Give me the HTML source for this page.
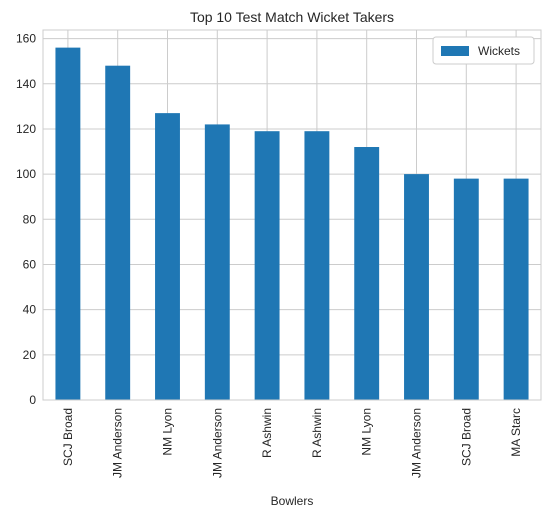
<!DOCTYPE html>
<html><head><meta charset="utf-8"><style>
body{margin:0;background:#fff;font-family:"Liberation Sans",sans-serif;}
svg text{font-family:"Liberation Sans",sans-serif;fill:#262626;}
</style></head><body>
<svg id="chart" width="548" height="520">
<rect width="548" height="520" fill="#fff"/>
<text x="292" y="22" font-size="14" text-anchor="middle">Top 10 Test Match Wicket Takers</text>
<g id="grid"></g><g id="bars"></g><g id="xt"></g><g id="yt"></g>
<rect x="43" y="30" width="498" height="370" fill="none" stroke="#ccc" stroke-width="1"/>
<text x="292" y="505" font-size="12" text-anchor="middle">Bowlers</text>
<g>
<rect x="433" y="37" width="101" height="27" rx="3" fill="#fff" stroke="#ccc"/>
<rect x="441" y="46" width="28" height="10" fill="#1f77b4"/>
<text x="478" y="55" font-size="12">Wickets</text>
</g>
</svg>
<script>
const categories=["SCJ Broad","JM Anderson","NM Lyon","JM Anderson","R Ashwin","R Ashwin","NM Lyon","JM Anderson","SCJ Broad","MA Starc"];
const wickets=[156,148,127,122,119,119,112,100,98,98];
const yTicks=[0,20,40,60,80,100,120,140,160];
const NS="http://www.w3.org/2000/svg";
const L=43,R=541,T=30,B=400,yMax=Math.max(...wickets)*1.05;
const y=v=>B-(v/yMax)*(B-T);
const band=(R-L)/categories.length;
const x=i=>L+band*(i+0.5);
function mk(tag,attrs,parent){const e=document.createElementNS(NS,tag);for(const k in attrs)e.setAttribute(k,attrs[k]);document.getElementById(parent).appendChild(e);return e;}
yTicks.forEach(t=>{
 const g=mk("line",{x1:L,x2:R,y1:y(t),y2:y(t),stroke:"#ccc","stroke-width":1},"grid");
 
 
 const tx=mk("text",{x:L-7,y:y(t)+4,"font-size":12,"text-anchor":"end"},"yt");
 tx.textContent=t;
 
 
});
categories.forEach((c,i)=>{
 const g=mk("line",{x1:x(i),x2:x(i),y1:T,y2:B,stroke:"#ccc","stroke-width":1},"grid");
 
 
 const w=band*0.5;
 const b=mk("rect",{x:x(i)-w/2,y:y(wickets[i]),width:w,height:B-y(wickets[i]),fill:"#1f77b4"},"bars");
 
 
 const tx=mk("text",{x:0,y:0,"font-size":12,"text-anchor":"end",transform:`translate(${x(i)+4},${B+8}) rotate(-90)`},"xt");
 tx.textContent=c;
 
 
});
</script>
</body></html>
